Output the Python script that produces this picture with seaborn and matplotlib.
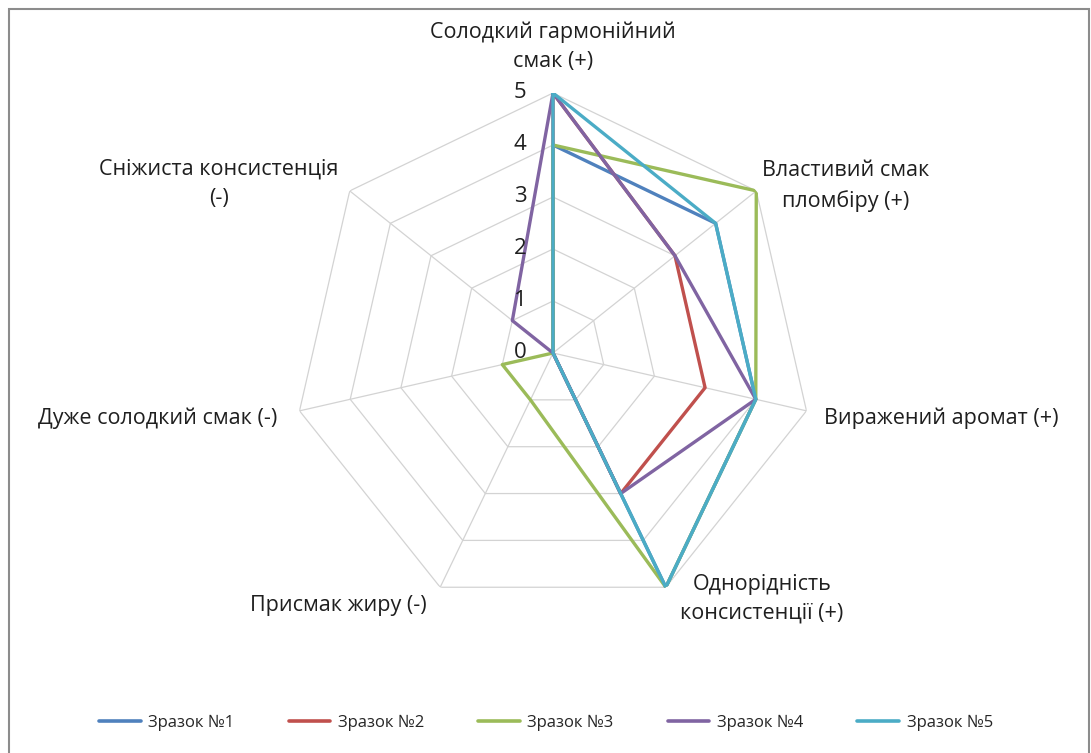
import numpy as np
import pandas as pd
import matplotlib
matplotlib.use("Agg")
import matplotlib.pyplot as plt
import seaborn as sns
from matplotlib.lines import Line2D
from matplotlib.transforms import offset_copy
from matplotlib.patches import Rectangle

categories = [
    "Солодкий гармонійний\nсмак (+)",
    "Властивий смак\nпломбіру (+)",
    "Виражений аромат (+)",
    "Однорідність\nконсистенції (+)",
    "Присмак жиру (-)",
    "Дуже солодкий смак (-)",
    "Сніжиста консистенція\n(-)",
]
series_names = ["Зразок №1", "Зразок №2", "Зразок №3", "Зразок №4", "Зразок №5"]
s1 = [4, 4, 4, 5, 0, 0, 0]
s2 = [5, 3, 3, 3, 0, 0, 0]
s3 = [4, 5, 4, 5, 1, 1, 0]
s4 = [5, 3, 4, 3, 0, 0, 1]
s5 = [5, 4, 4, 5, 0, 0, 0]
ticks = [0, 1, 2, 3, 4, 5]
colors = ["#4F81BD", "#C0504D", "#9BBB59", "#8064A2", "#4BACC6"]

sns.set_style("white")
plt.rcParams["font.family"] = ["Open Sans", "DejaVu Sans"]

W, H = 1091, 753
fig = plt.figure(figsize=(W / 100, H / 100), dpi=100)

n = len(categories)
angles = [2 * np.pi * i / n for i in range(n)]
angles_closed = angles + [2 * np.pi]

rows = []
for name, vals in zip(series_names, [s1, s2, s3, s4, s5]):
    for i, a in enumerate(angles_closed):
        rows.append({"series": name, "theta": a, "value": vals[i % n], "order": i})
df = pd.DataFrame(rows)

cx, cy, R = 553, 353, 260
ax = fig.add_axes([(cx - R) / W, 1 - (cy + R) / H, 2 * R / W, 2 * R / H], polar=True)
ax.set_theta_offset(np.pi / 2)
ax.set_theta_direction(-1)
ax.grid(False)
ax.spines["polar"].set_visible(False)
ax.patch.set_alpha(0)

grid_color = "#d3d3d3"
for r in ticks[1:]:
    ax.plot(angles_closed, [r] * (n + 1), color=grid_color, lw=0.9, zorder=1)
for a in angles:
    ax.plot([a, a], [0, ticks[-1]], color=grid_color, lw=0.9, zorder=1)

sns.lineplot(data=df, x="theta", y="value", hue="series", palette=colors,
             sort=False, estimator=None, ax=ax, lw=2.4, legend=False, zorder=3)

ax.set_ylim(0, 5)
ax.set_xticks([])
ax.set_yticks([])
ax.set_xlabel("")
ax.set_ylabel("")

tr = offset_copy(ax.transData, fig=fig, x=-33, y=0, units="dots")
for t in ticks:
    ax.text(0, t, str(t), transform=tr, ha="center", va="center",
            fontsize=16, color="#1f1f1f", zorder=4)

label_pos = [(553, 47), (846, 186), (941, 418), (762, 599), (338, 605), (158, 418), (219, 184)]
for lab, (px, py) in zip(categories, label_pos):
    fig.text(px / W, 1 - py / H, lab, ha="center", va="center", multialignment="center",
             fontsize=15.5, color="#1f1f1f", linespacing=1.5)

handles = [Line2D([], [], color=c, lw=2.6) for c in colors]
fig.legend(handles, series_names, loc="center", bbox_to_anchor=(546 / W, 1 - 723 / H),
           ncol=5, frameon=False, fontsize=12, handlelength=2.5, handletextpad=0.45,
           columnspacing=3.25)

fig.patches.append(Rectangle((9 / W, -6 / H), (1089 - 9) / W, (744 + 6) / H,
                             transform=fig.transFigure, fill=False,
                             edgecolor="#8c8c8c", lw=1.5))

fig.savefig("out.png", dpi=100)
